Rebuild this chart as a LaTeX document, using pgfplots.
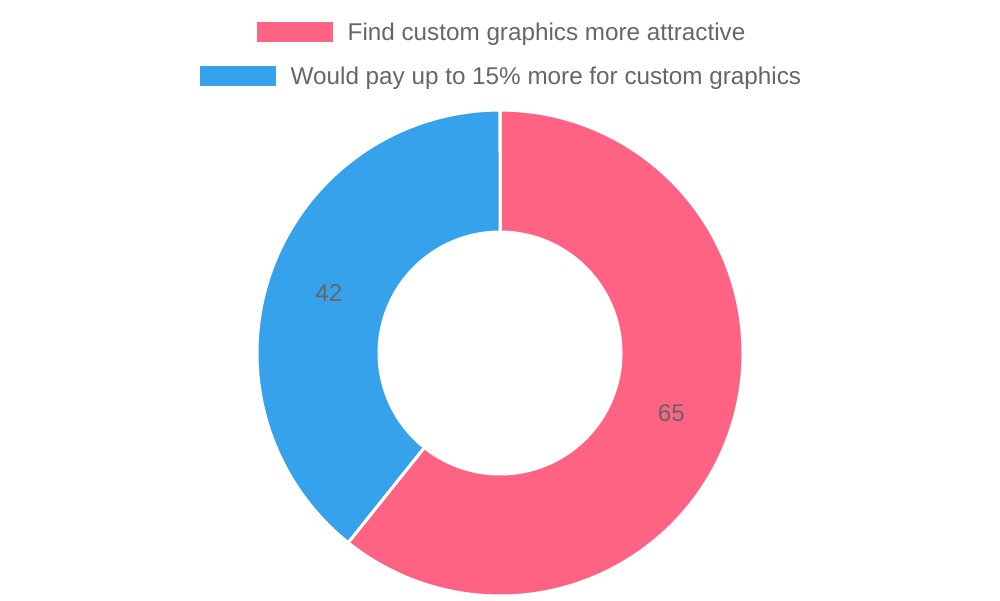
\documentclass[border=0pt]{standalone}
\usepackage{pgfplots}
\pgfplotsset{compat=1.18}
\usepackage{pgfplotstable}
\usepackage{fontspec}
\setmainfont{Liberation Sans}
\definecolor{pinkc}{HTML}{FF6384}
\definecolor{bluec}{HTML}{36A2EB}
\definecolor{txt}{HTML}{666666}
\pgfplotstableread{
label value
A 65
B 42
}\data
\begin{document}%
\begin{tikzpicture}
\pgfplotstablegetelem{0}{value}\of\data \let\va\pgfplotsretval
\pgfplotstablegetelem{1}{value}\of\data \let\vb\pgfplotsretval
\pgfmathsetmacro{\tot}{\va+\vb}
\pgfmathsetmacro{\aA}{90}
\pgfmathsetmacro{\aB}{90-\va/\tot*360}
\pgfmathsetmacro{\aC}{\aB-\vb/\tot*360}
\pgfmathsetmacro{\mA}{(\aA+\aB)/2}
\pgfmathsetmacro{\mB}{(\aB+\aC)/2}
\useasboundingbox (0,0) rectangle (10,6);
\begin{axis}[
  at={(0,0)}, anchor=south west,
  scale only axis, width=10cm, height=6cm,
  xmin=0, xmax=1000, ymin=0, ymax=600,
  hide axis, clip=false,
  declare function={
    rr(\t)=ifthenelse(\t<1,243,ifthenelse(\t<2,243-122*(\t-1),121));
    aa(\t,\a,\b)=ifthenelse(\t<1,\a+(\b-\a)*\t,ifthenelse(\t<2,\b,\b-(\b-\a)*(\t-2)));
  },
]
\addplot[fill=pinkc, draw=white, line width=0.03cm, line join=round, domain=0:3, samples=451, variable=\t, mark=none]
  ({500+rr(\t)*cos(aa(\t,\aA,\aB))}, {247+rr(\t)*sin(aa(\t,\aA,\aB))}) -- cycle;
\addplot[fill=bluec, draw=white, line width=0.03cm, line join=round, domain=0:3, samples=451, variable=\t, mark=none]
  ({500+rr(\t)*cos(aa(\t,\aB,\aC))}, {247+rr(\t)*sin(aa(\t,\aB,\aC))}) -- cycle;
\node[text=txt, font=\fontsize{6.9}{8}\selectfont] at (axis cs:{500+181.5*cos(\mA)},{247+181.5*sin(\mA)}) {\va};
\node[text=txt, font=\fontsize{6.9}{8}\selectfont] at (axis cs:{500+181.5*cos(\mB)},{247+181.5*sin(\mB)}) {\vb};
% legend
\fill[pinkc] (axis cs:257,558) rectangle (axis cs:333,578);
\node[anchor=base west, inner sep=0pt, text=txt, font=\fontsize{6.9}{8}\selectfont] at (axis cs:347,560) {Find custom graphics more attractive};
\fill[bluec] (axis cs:200,514) rectangle (axis cs:276,534);
\node[anchor=base west, inner sep=0pt, text=txt, font=\fontsize{6.9}{8}\selectfont] at (axis cs:290,516) {Would pay up to 15\% more for custom graphics};
\end{axis}
\end{tikzpicture}%
\end{document}
